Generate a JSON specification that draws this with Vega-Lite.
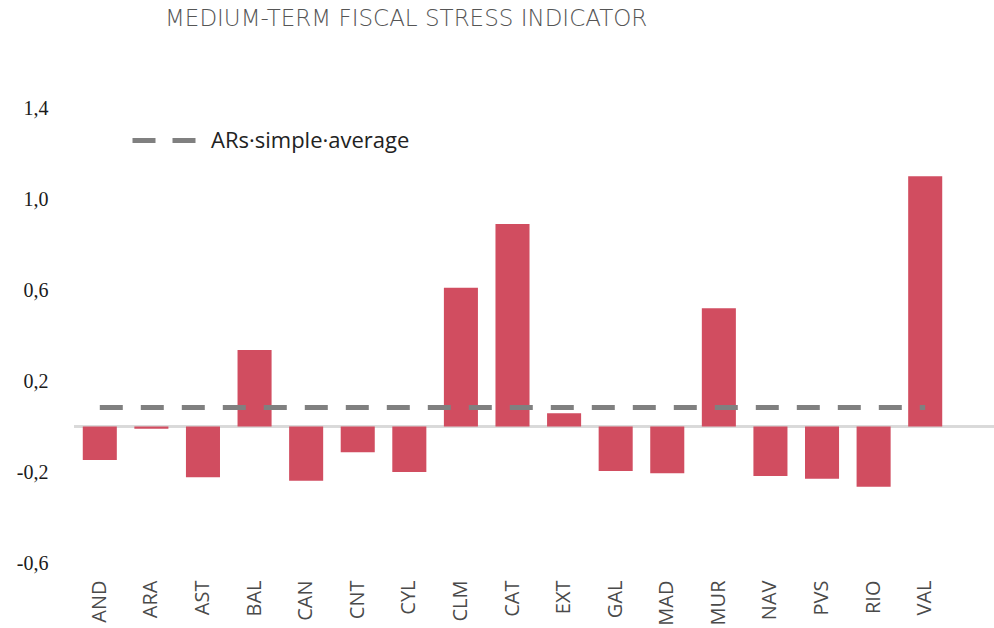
{
  "$schema": "https://vega.github.io/schema/vega-lite/v6.json",
  "autosize": "none",
  "width": 920,
  "height": 455,
  "padding": {"left": 74, "top": 108, "right": 0, "bottom": 65},
  "background": "white",
  "config": {"view": {"stroke": null}},
  "title": {
    "text": "MEDIUM-TERM FISCAL STRESS INDICATOR",
    "anchor": "start",
    "frame": "group",
    "dx": 91,
    "offset": 49,
    "baseline": "alphabetic",
    "font": "DejaVu Sans",
    "fontSize": 23,
    "fontWeight": 200,
    "color": "#555555"
  },
  "data": {
    "values": [
      {"region": "AND", "value": -0.147, "avg": 0.084},
      {"region": "ARA", "value": -0.01, "avg": 0.084},
      {"region": "AST", "value": -0.223, "avg": 0.084},
      {"region": "BAL", "value": 0.336, "avg": 0.084},
      {"region": "CAN", "value": -0.238, "avg": 0.084},
      {"region": "CNT", "value": -0.113, "avg": 0.084},
      {"region": "CYL", "value": -0.2, "avg": 0.084},
      {"region": "CLM", "value": 0.61, "avg": 0.084},
      {"region": "CAT", "value": 0.89, "avg": 0.084},
      {"region": "EXT", "value": 0.058, "avg": 0.084},
      {"region": "GAL", "value": -0.196, "avg": 0.084},
      {"region": "MAD", "value": -0.206, "avg": 0.084},
      {"region": "MUR", "value": 0.52, "avg": 0.084},
      {"region": "NAV", "value": -0.218, "avg": 0.084},
      {"region": "PVS", "value": -0.23, "avg": 0.084},
      {"region": "RIO", "value": -0.265, "avg": 0.084},
      {"region": "VAL", "value": 1.1, "avg": 0.084}
    ]
  },
  "encoding": {
    "x": {
      "field": "region",
      "type": "nominal",
      "sort": null,
      "scale": {"range": [0, 877], "paddingInner": 0.34, "paddingOuter": 0.17},
      "axis": {
        "title": null,
        "domain": false,
        "ticks": false,
        "labelAngle": -90,
        "labelAlign": "right",
        "labelBaseline": "middle",
        "labelPadding": 17,
        "labelFont": "Open Sans",
        "labelFontSize": 20,
        "labelColor": "#4a4a4a",
        "labelOverlap": false
      }
    }
  },
  "layer": [
    {
      "mark": {"type": "rule", "color": "#d9d9d9", "strokeWidth": 2},
      "encoding": {"x": null, "y": {"datum": 0, "type": "quantitative"}}
    },
    {
      "mark": {"type": "bar", "color": "#d14d60"},
      "encoding": {
        "y": {
          "field": "value",
          "type": "quantitative",
          "scale": {"domain": [-0.6, 1.4], "nice": false, "zero": false},
          "axis": {
            "title": null,
            "domain": false,
            "ticks": false,
            "grid": false,
            "values": [-0.6, -0.2, 0.2, 0.6, 1.0, 1.4],
            "labelExpr": "replace(replace(format(datum.value, '.1f'), '.', ','), '\u2212', '-')",
            "labelPadding": 26,
            "labelFont": "Liberation Serif",
            "labelFontSize": 20,
            "labelColor": "#1a1a1a"
          }
        }
      }
    },
    {
      "mark": {"type": "line", "strokeWidth": 5, "strokeDash": [23, 18], "strokeCap": "butt"},
      "encoding": {
        "y": {"field": "avg", "type": "quantitative"},
        "color": {
          "datum": "ARs·simple·average",
          "scale": {"range": ["#808080"]},
          "legend": {
            "title": null,
            "orient": "none",
            "legendX": 56,
            "legendY": -2,
            "padding": 0,
            "symbolType": "stroke",
            "symbolSize": 4096,
            "symbolStrokeWidth": 5,
            "symbolDash": [23, 17],
            "symbolStrokeColor": "#808080",
            "labelFont": "Open Sans",
            "labelFontSize": 22,
            "labelLimit": 0,
            "labelColor": "#222222",
            "labelOffset": 12
          }
        }
      }
    }
  ]
}
